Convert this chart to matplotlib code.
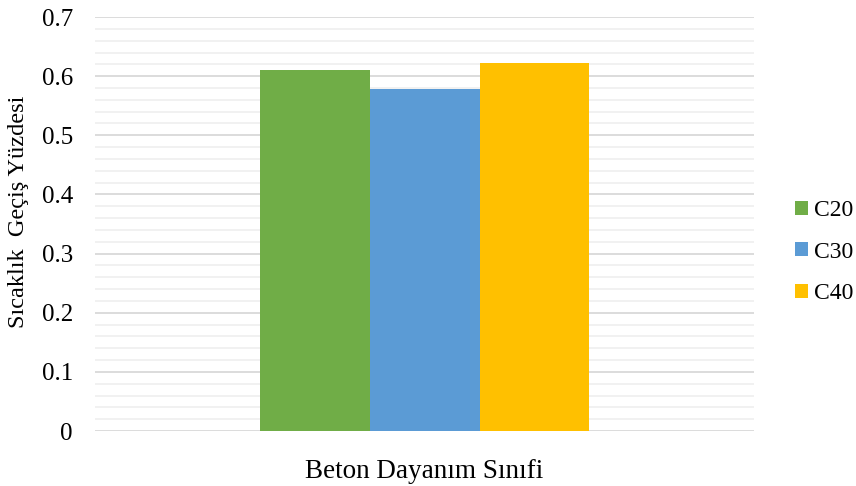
import matplotlib
matplotlib.use("Agg")
import matplotlib.pyplot as plt
import numpy as np

series = ["C20", "C30", "C40"]
values = [0.61, 0.578, 0.622]
colors = ["#70AD47", "#5B9BD5", "#FFC000"]
yticks = [0, 0.1, 0.2, 0.3, 0.4, 0.5, 0.6, 0.7]
ytick_labels = ["0", "0.1", "0.2", "0.3", "0.4", "0.5", "0.6", "0.7"]

plt.rcParams['font.family'] = ['Liberation Serif', 'DejaVu Serif']

fig = plt.figure(figsize=(8.56, 4.86), dpi=100)
ax = fig.add_axes([0.111, 0.113, 0.77, 0.852])

w = 1/6
for i, (s, v, c) in enumerate(zip(series, values, colors)):
    ax.bar((i - 1) * w, v, width=w, color=c, label=s, zorder=3)

ax.set_xlim(-0.5, 0.5)
ax.set_ylim(0, 0.7)
ax.set_yticks(yticks)
ax.set_yticklabels(ytick_labels, fontsize=18)
ax.set_yticks(np.arange(0, 0.70001, 0.02), minor=True)
ax.set_xticks([])
ax.grid(axis='y', which='major', color='#d9d9d9', linewidth=1.3, zorder=0)
ax.grid(axis='y', which='minor', color='#f0f0f0', linewidth=1.3, zorder=0)
ax.tick_params(axis='y', which='both', length=0, pad=16)
for sp in ax.spines.values():
    sp.set_visible(False)

ax.set_ylabel("Sıcaklık  Geçiş Yüzdesi", fontsize=17.5, labelpad=8)
ax.yaxis.set_label_coords(-0.1, 0.53)
ax.set_xlabel("Beton Dayanım Sınıfi", fontsize=19.5, labelpad=20)

leg = fig.legend(loc='center left', bbox_to_anchor=(0.904, 0.481), frameon=False,
                 fontsize=17, handlelength=0.55, handleheight=0.55, handletextpad=0.25,
                 labelspacing=0.86)

fig.savefig("out.png", dpi=100)
